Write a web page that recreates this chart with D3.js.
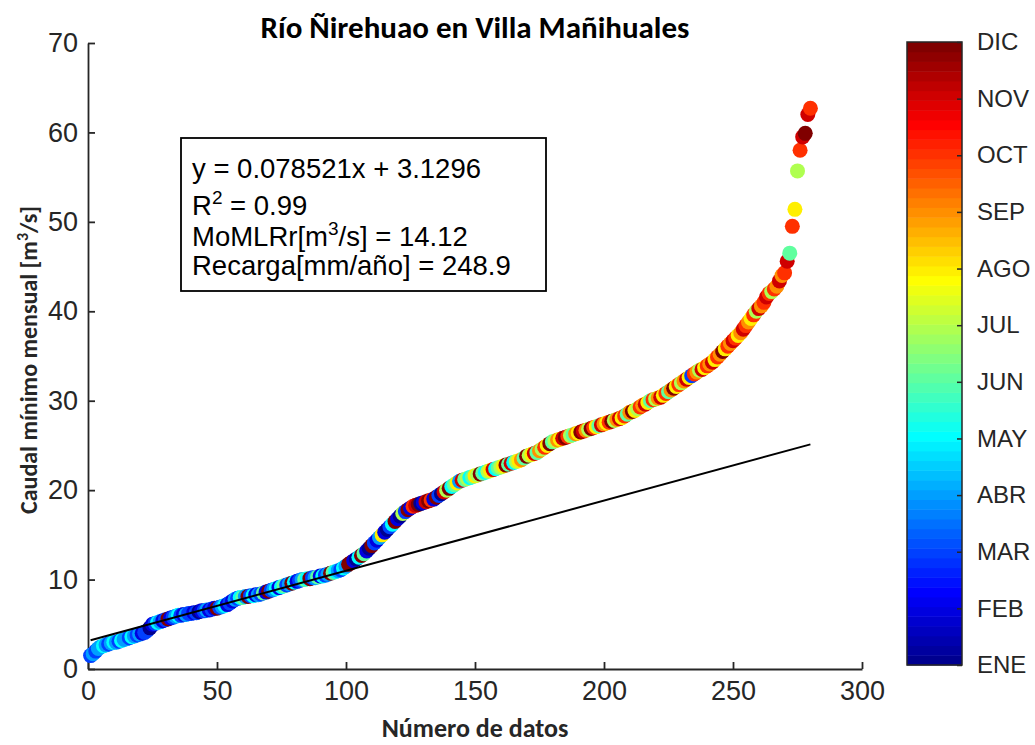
<!DOCTYPE html>
<html>
<head>
<meta charset="utf-8">
<script src="https://cdn.jsdelivr.net/npm/d3@7"></script>
<style>
  body { margin: 0; background: #fff; }
  svg { display: block; }
</style>
</head>
<body>
<svg id="chart" width="1035" height="745"></svg>
<script>
// caudal minimo mensual ordenado (m3/s), uno por dato
const caudal = [
  1.5,1.7,2.0,2.3,2.5,2.6,2.7,2.8,2.9,3.0,
  3.0,3.1,3.2,3.3,3.4,3.5,3.6,3.7,3.8,3.9,
  4.0,4.1,4.3,4.6,5.0,5.1,5.2,5.3,5.4,5.5,
  5.6,5.7,5.8,5.9,6.0,6.0,6.1,6.1,6.2,6.2,
  6.3,6.3,6.4,6.5,6.5,6.6,6.6,6.7,6.8,6.8,
  6.9,7.0,7.1,7.2,7.4,7.6,7.8,7.9,8.0,8.0,
  8.1,8.1,8.2,8.2,8.3,8.3,8.4,8.5,8.6,8.7,
  8.8,8.9,9.0,9.1,9.2,9.3,9.4,9.5,9.6,9.7,
  9.8,9.9,10.0,10.0,10.1,10.1,10.2,10.2,10.3,10.4,
  10.4,10.5,10.6,10.7,10.8,10.9,11.0,11.1,11.3,11.5,
  11.7,11.9,12.1,12.3,12.5,12.7,12.9,13.2,13.5,13.8,
  14.1,14.4,14.7,15.0,15.3,15.6,15.9,16.2,16.5,16.8,
  17.1,17.4,17.6,17.8,18.0,18.2,18.3,18.4,18.5,18.6,
  18.7,18.8,18.9,19.0,19.2,19.4,19.6,19.8,20.0,20.2,
  20.4,20.6,20.8,21.0,21.1,21.2,21.3,21.4,21.5,21.6,
  21.7,21.8,21.9,22.0,22.1,22.2,22.3,22.4,22.5,22.6,
  22.7,22.8,22.9,23.0,23.1,23.2,23.3,23.4,23.6,23.8,
  23.9,24.0,24.1,24.2,24.4,24.6,24.8,25.0,25.2,25.4,
  25.5,25.6,25.7,25.8,25.9,26.0,26.1,26.2,26.3,26.4,
  26.5,26.6,26.7,26.8,26.9,27.0,27.1,27.2,27.3,27.4,
  27.5,27.6,27.7,27.8,27.9,28.0,28.1,28.3,28.5,28.7,
  28.8,28.9,29.1,29.3,29.5,29.6,29.8,30.0,30.1,30.2,
  30.3,30.4,30.6,30.8,31.0,31.2,31.4,31.6,31.8,32.0,
  32.2,32.4,32.6,32.8,33.0,33.2,33.4,33.5,33.7,33.9,
  34.1,34.3,34.6,34.9,35.2,35.5,35.8,36.1,36.4,36.7,
  37.0,37.3,37.6,38.0,38.4,38.8,39.2,39.6,40.0,40.3,
  40.6,41.0,41.6,42.0,42.2,42.5,42.8,43.4,44.0,44.3,
  45.6,46.5,49.5,51.4,55.7,58.0,59.5,59.9,62.0,62.7
];

// mes de cada dato (1 = ENE ... 12 = DIC)
const mes = [
  3,4,3,4,4,5,4,3,4,5,4,3,5,4,4,3,5,4,3,4,
  2,3,3,1,2,3,5,4,2,3,12,2,3,4,5,3,2,4,3,3,
  2,3,1,2,3,4,2,3,2,12,3,4,5,2,3,2,4,3,5,6,
  4,12,3,5,2,4,3,6,2,12,3,4,5,2,5,6,3,4,12,5,
  2,3,4,6,5,12,3,4,6,2,5,3,4,12,6,5,4,3,5,4,
  12,12,2,1,5,12,6,2,1,12,3,2,4,8,2,1,3,5,12,2,
  1,7,3,12,2,10,11,12,1,2,11,12,10,2,12,3,1,11,7,12,
  5,6,8,4,11,6,7,5,6,8,7,12,6,5,7,8,11,5,6,7,
  8,12,6,11,5,7,8,9,6,12,7,8,11,6,9,7,10,8,12,6,
  7,9,8,11,12,10,7,6,9,8,12,11,9,7,12,10,8,6,11,9,
  8,10,12,7,9,11,8,10,6,9,12,8,7,10,9,11,8,6,10,7,
  9,11,8,10,6,9,12,8,10,7,9,11,8,3,10,9,7,11,8,10,
  9,11,8,10,9,12,8,10,9,11,10,8,9,11,10,9,8,10,7,11,
  9,10,11,10,7,10,9,11,9,10,11,6,10,8,7,10,11,12,11,10
];

const meses = ['ENE','FEB','MAR','ABR','MAY','JUN','JUL','AGO','SEP','OCT','NOV','DIC'];
const xTicks = [0, 50, 100, 150, 200, 250, 300];
const yTicks = [0, 10, 20, 30, 40, 50, 60, 70];

// recta de ajuste
const pendiente = 0.078521;
const intercepto = 3.1296;
const rectaX = [1, 280];

// texto del recuadro: [texto, superindice?]
const recuadro = [
  [['y = 0.078521x + 3.1296', false]],
  [['R', false], ['2', true], [' = 0.99', false]],
  [['MoMLRr[m', false], ['3', true], ['/s] = 14.12', false]],
  [['Recarga[mm/año] = 248.9', false]]
];

const titulo = 'Río Ñirehuao en Villa Mañihuales';

// colormap jet(64) como en MATLAB
const jet64 = (() => {
  const n = 64, m = 16;
  let u = [];
  for (let i = 1; i <= m; i++) u.push(i / m);
  for (let i = 1; i < m; i++) u.push(1);
  for (let i = m; i >= 1; i--) u.push(i / m);
  let J = d3.range(n).map(() => [0, 0, 0]);
  u.forEach((v, j) => {
    let g = 8 + j + 1, r = g + m, b = g - m;
    if (g <= n) J[g - 1][1] = v;
    if (r <= n) J[r - 1][0] = v;
    if (b >= 1) J[b - 1][2] = v;
  });
  return J.map(c => d3.rgb(c[0] * 255, c[1] * 255, c[2] * 255).formatHex());
})();

const svg = d3.select('#chart');
const ink = '#262626';
const tickFont = "'Liberation Sans', Arial, sans-serif";
const labelFont = "Carlito, Lato, 'Open Sans', sans-serif";

let x = d3.scaleLinear().domain([0, 300]).range([88, 862]);
let y = d3.scaleLinear().domain([0, 70]).range([669, 43]);
let color = d3.scaleQuantize().domain([1, 12]).range(jet64);

// ejes
let xAxis = svg.append('g')
  .attr('transform', 'translate(0,' + y(0) + ')')
  .call(d3.axisBottom(x).tickValues(xTicks).tickSizeInner(-7).tickSizeOuter(0).tickPadding(12));
let yAxis = svg.append('g')
  .attr('transform', 'translate(' + x(0) + ',0)')
  .call(d3.axisLeft(y).tickValues(yTicks).tickSizeInner(-7).tickSizeOuter(0).tickPadding(10));

[xAxis, yAxis].forEach(ax => {
  ax.select('.domain').attr('stroke', ink).attr('stroke-width', 1.8);
  ax.selectAll('.tick line').attr('stroke', ink).attr('stroke-width', 1.8);
  ax.selectAll('.tick text')
    .attr('fill', ink)
    .style('font-family', tickFont)
    .style('font-size', '27px');
});

// puntos
svg.append('g')
  .selectAll('circle')
  .data(caudal)
  .enter()
  .append('circle')
    .attr('cx', (d, i) => x(i + 1))
    .attr('cy', d => y(d))
    .attr('r', 7.5)
    .style('fill', (d, i) => color(mes[i]));

// recta
svg.append('line')
  .attr('x1', x(rectaX[0]))
  .attr('y1', y(pendiente * rectaX[0] + intercepto))
  .attr('x2', x(rectaX[1]))
  .attr('y2', y(pendiente * rectaX[1] + intercepto))
  .attr('stroke', '#000')
  .attr('stroke-width', 2);

// recuadro con la ecuacion
let box = svg.append('g');
box.append('rect')
  .attr('x', 181).attr('y', 138)
  .attr('width', 365).attr('height', 153)
  .attr('fill', '#fff')
  .attr('stroke', '#000')
  .attr('stroke-width', 1.8);

const baselines = [178, 215, 246, 275];
recuadro.forEach((linea, i) => {
  let t = box.append('text')
    .attr('x', 192)
    .attr('y', baselines[i])
    .style('font-family', tickFont)
    .style('font-size', '27.5px')
    .attr('fill', '#000');
  linea.forEach(([txt, sup]) => {
    let s = t.append('tspan').text(txt);
    if (sup) s.attr('dy', -11).style('font-size', '19px');
    else if (t.selectAll('tspan').size() > 1) s.attr('dy', 11);
  });
});

// titulo y etiquetas
svg.append('text')
  .attr('x', 475).attr('y', 38)
  .attr('text-anchor', 'middle')
  .style('font-family', labelFont)
  .style('font-weight', 'bold')
  .style('font-size', '31px')
  .attr('fill', '#000')
  .text(titulo);

svg.append('text')
  .attr('x', 475).attr('y', 737)
  .attr('text-anchor', 'middle')
  .style('font-family', labelFont)
  .style('font-weight', 'bold')
  .style('font-size', '26px')
  .attr('fill', ink)
  .text('Número de datos');

let yl = svg.append('text')
  .attr('text-anchor', 'middle')
  .attr('transform', 'translate(37,360)rotate(-90)')
  .style('font-family', labelFont)
  .style('font-weight', 'bold')
  .style('font-size', '24px')
  .attr('fill', ink);
yl.append('tspan').text('Caudal mínimo mensual [m');
yl.append('tspan').attr('dy', -9).style('font-size', '16px').text('3');
yl.append('tspan').attr('dy', 9).text('/s]');

// barra de color
let cb = d3.scaleLinear().domain([1, 12]).range([665, 42]);
let cbX = 907, cbW = 55;
let bar = svg.append('g');
bar.selectAll('rect')
  .data(jet64)
  .enter()
  .append('rect')
    .attr('x', cbX)
    .attr('width', cbW)
    .attr('y', (d, i) => cb(1 + (i + 1) * 11 / 64))
    .attr('height', (d, i) => cb(1 + i * 11 / 64) - cb(1 + (i + 1) * 11 / 64) + 0.5)
    .attr('fill', d => d);

let cbAxis = svg.append('g')
  .attr('transform', 'translate(' + (cbX + cbW) + ',0)')
  .call(d3.axisRight(cb).tickValues(d3.range(1, 13)).tickFormat(d => meses[d - 1])
    .tickSizeInner(-5).tickSizeOuter(0).tickPadding(15));
cbAxis.select('.domain').remove();
cbAxis.selectAll('.tick line').attr('stroke', ink).attr('stroke-width', 1.5);
cbAxis.selectAll('.tick text')
  .attr('fill', ink)
  .style('font-family', tickFont)
  .style('font-size', '24px');

bar.append('rect')
  .attr('x', cbX).attr('y', cb(12))
  .attr('width', cbW).attr('height', cb(1) - cb(12))
  .attr('fill', 'none')
  .attr('stroke', ink)
  .attr('stroke-width', 1.5);
</script>
</body>
</html>
